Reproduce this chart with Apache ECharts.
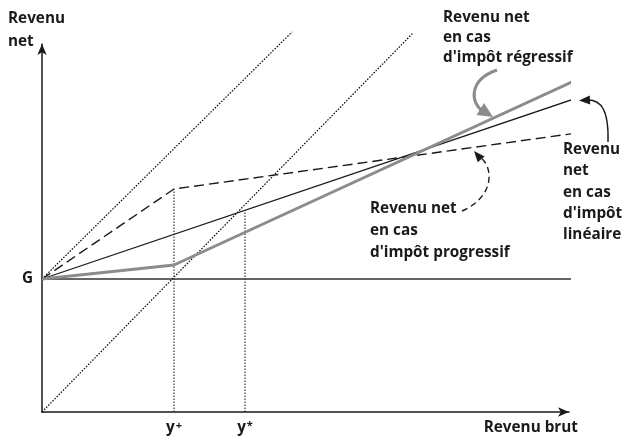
<!DOCTYPE html>
<html>
<head>
<meta charset="utf-8">
<script src="https://cdn.jsdelivr.net/npm/echarts@6/dist/echarts.min.js"></script>
<style>
html,body{margin:0;padding:0;background:#fff;}
#chart{width:625px;height:438px;}
</style>
</head>
<body>
<div id="chart"></div>
<script>
// ---- data (units: gross income on x, net income on y) ----
const G = 133;
const yPlus = 132;
const yStar = 203;
const xTickValues = [132, 203];
const xTickLabels = ['y+', 'y*'];
const yTickValues = [133];
const yTickLabels = ['G'];
const progressif = [[0, 133], [132, 223], [535, 279]];
const lineaire = [[0, 133], [532, 313]];
const regressif = [[0, 133], [132, 147], [534, 332]];
const bissectriceOrigine = [[0, 0], [371, 379]];
const bissectriceG = [[0, 133], [250, 380]];
const horizontalG = [[0, 133], [533, 133]];
const verticalYPlus = [[132, 0], [132, 223]];
const verticalYStar = [[203, 0], [203, 202]];

const FONT = '"Open Sans", "DejaVu Sans", sans-serif';
const INK = '#1a1a1a';

const chart = echarts.init(document.getElementById('chart'), null, {renderer: 'canvas'});

function lineSeries(data, style) {
  return {
    type: 'line', data: data, showSymbol: false, symbol: 'none', silent: true,
    clip: false, animation: false, lineStyle: style, z: style.z || 2
  };
}

const txt = (text, x, y, lh, align) => ({
  type: 'text', x: x, y: y, silent: true,
  style: {
    text: text, fill: INK, font: 'bold 15.3px ' + FONT,
    lineHeight: lh, textAlign: align || 'left', textVerticalAlign: 'top'
  }
});

function arrowHead(tip, dir, len, hw, color) {
  const n = Math.hypot(dir[0], dir[1]);
  const d = [dir[0] / n, dir[1] / n];
  const p = [-d[1], d[0]];
  const b = [tip[0] - d[0] * len, tip[1] - d[1] * len];
  return {
    type: 'polygon', silent: true,
    shape: {points: [tip, [b[0] + p[0] * hw, b[1] + p[1] * hw], [b[0] - p[0] * hw, b[1] - p[1] * hw]]},
    style: {fill: color}
  };
}

function curve(s, c1, c2, e, style) {
  return {
    type: 'bezierCurve', silent: true,
    shape: {x1: s[0], y1: s[1], cpx1: c1[0], cpy1: c1[1], cpx2: c2[0], cpy2: c2[1], x2: e[0], y2: e[1]},
    style: Object.assign({fill: null}, style)
  };
}

const option = {
  animation: false,
  backgroundColor: '#fff',
  grid: {left: 42, right: 56, top: 44, bottom: 26},
  xAxis: {
    type: 'value', min: 0, max: 527,
    splitLine: {show: false},
    axisTick: {show: false},
    axisLine: {show: true, symbol: ['none', 'arrow'], symbolSize: [7, 11],
      lineStyle: {color: INK, width: 1.5}},
    axisLabel: {
      customValues: xTickValues, margin: 8,
      formatter: function (v) {
        const i = xTickValues.indexOf(v);
        const t = i >= 0 ? xTickLabels[i] : '';
        return '{b|' + t.charAt(0) + '}{s|' + t.charAt(1) + '}';
      },
      rich: {
        b: {fontFamily: FONT, fontWeight: 'bold', fontSize: 15.3, color: INK},
        s: {fontFamily: FONT, fontWeight: 'bold', fontSize: 11, color: INK, verticalAlign: 'top', padding: [0, 0, 3, 1]}
      }
    }
  },
  yAxis: {
    type: 'value', min: 0, max: 368,
    splitLine: {show: false},
    axisTick: {show: false},
    axisLine: {show: true, symbol: ['none', 'arrow'], symbolSize: [7, 11],
      lineStyle: {color: INK, width: 1.5}},
    axisLabel: {
      customValues: yTickValues, margin: 9,
      formatter: function (v) {
        const i = yTickValues.indexOf(v);
        return i >= 0 ? yTickLabels[i] : '';
      },
      fontFamily: FONT, fontWeight: 'bold', fontSize: 15.3, color: INK,
      padding: [4, 0, 0, 0]
    }
  },
  series: [
    lineSeries(bissectriceOrigine, {color: '#000', width: 1.2, type: [1.5, 1.5]}),
    lineSeries(bissectriceG, {color: '#000', width: 1.2, type: [1.5, 1.5]}),
    lineSeries(verticalYPlus, {color: '#222', width: 1.1, type: [1.5, 1.5]}),
    lineSeries(verticalYStar, {color: '#222', width: 1.1, type: [1.5, 1.5]}),
    lineSeries(horizontalG, {color: '#333', width: 1.5}),
    lineSeries(progressif, {color: INK, width: 1.4, type: [10, 5]}),
    lineSeries(lineaire, {color: INK, width: 1.3}),
    lineSeries(regressif, {color: '#8c8c8c', width: 3, z: 3})
  ],
  graphic: [
    txt('Revenu\nnet', 8, 7, 23),
    txt('Revenu net\nen cas\nd\'impôt régressif', 443, 8, 20),
    txt('Revenu net\nen cas\nd\'impôt progressif', 370, 198, 22),
    txt('Revenu\nnet\nen cas\nd\'impôt\nlinéaire', 563, 139, 21.3),
    txt('Revenu brut', 578, 417, 22, 'right'),
    // regressive arrow (grey)
    curve([497, 70], [468, 80], [470, 104], [484, 112], {stroke: '#8c8c8c', lineWidth: 3}),
    arrowHead([493, 117], [0.85, 0.53], 15, 7, '#8c8c8c'),
    // linear arrow (black)
    curve([608, 142], [609, 110], [601, 100], [588, 100], {stroke: INK, lineWidth: 1.4}),
    arrowHead([579, 100.5], [-1, 0.05], 11, 4.5, INK),
    // progressive arrow (dashed)
    curve([462, 211], [496, 196], [493, 166], [480, 157], {stroke: INK, lineWidth: 1.4, lineDash: [6, 4]}),
    arrowHead([474, 151], [-0.65, -0.76], 11, 4.5, INK)
  ]
};
chart.setOption(option);
</script>
</body>
</html>
